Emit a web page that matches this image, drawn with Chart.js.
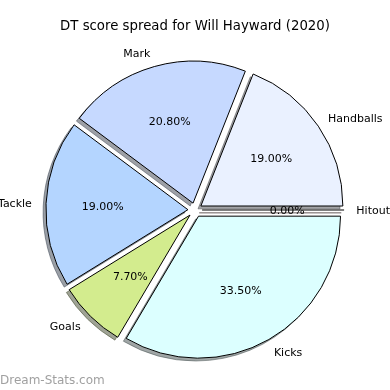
<!DOCTYPE html>
<html><head><meta charset="utf-8">
<script src="https://cdn.jsdelivr.net/npm/chart.js@4.4.1/dist/chart.umd.min.js"></script>
<style>html,body{margin:0;padding:0;background:#fff;}canvas{display:block;}</style>
</head><body>
<canvas id="c" width="390" height="390"></canvas>
<script>
// ---- data (matplotlib order: counter-clockwise from 3 o'clock) ----
const TITLE = 'DT score spread for Will Hayward (2020)';
const WATERMARK = 'Dream-Stats.com';
const categories = ['Handballs', 'Mark', 'Tackle', 'Goals', 'Kicks', 'Hitout'];
const shares = [19.00, 20.80, 19.00, 7.70, 33.50, 0.00];
const sliceColors = ['#eaf1ff', '#c6d9ff', '#b4d5ff', '#d3ec8e', '#dcffff', '#ffd9d9'];

// Chart.js runs clockwise, so reverse to mimic counter-clockwise layout
const cjLabels = categories.slice().reverse();
const cjValues = shares.slice().reverse();
const cjColors = sliceColors.slice().reverse();

const EXPLODE = 0.05;      // fraction of radius
const SHADOW = 0.02;       // fraction of radius
const FONT = '"DejaVu Sans", Verdana, sans-serif';

function hexToRgb(h) {
  h = h.replace('#', '');
  return [0, 2, 4].map(i => parseInt(h.substr(i, 2), 16));
}
function geom(arc) {
  const p = arc.getProps(['x', 'y', 'startAngle', 'endAngle', 'outerRadius', 'circumference'], true);
  const mid = (p.startAngle + p.endAngle) / 2;
  const d = EXPLODE * p.outerRadius;
  return Object.assign(p, { mid, ex: p.x + d * Math.cos(mid), ey: p.y + d * Math.sin(mid) });
}

const mplPie = {
  id: 'mplPie',
  beforeDatasetsDraw(chart) {
    const ctx = chart.ctx;
    const arcs = chart.getDatasetMeta(0).data;
    // shadows first (beneath every wedge)
    arcs.forEach(arc => {
      const g = geom(arc);
      const s = SHADOW * g.outerRadius;
      const cx = g.ex - s, cy = g.ey + s;
      const rgb = hexToRgb(arc.options.backgroundColor).map(v => Math.round(v * 0.3));
      const col = `rgba(${rgb.join(',')},0.5)`;
      ctx.save();
      ctx.beginPath();
      ctx.moveTo(cx, cy);
      ctx.arc(cx, cy, g.outerRadius, g.startAngle, g.endAngle);
      ctx.closePath();
      ctx.fillStyle = col; ctx.strokeStyle = col; ctx.lineWidth = 1;
      if (g.circumference > 0) ctx.fill();
      ctx.stroke();
      ctx.restore();
    });
    // wedges, exploded
    arcs.forEach(arc => {
      const g = geom(arc);
      ctx.save();
      if (g.circumference > 0) {
        ctx.translate(g.ex - g.x, g.ey - g.y);
        arc.draw(ctx);
      } else {
        ctx.beginPath();
        ctx.moveTo(g.ex, g.ey);
        ctx.lineTo(g.ex + g.outerRadius * Math.cos(g.startAngle), g.ey + g.outerRadius * Math.sin(g.startAngle));
        ctx.strokeStyle = arc.options.borderColor; ctx.lineWidth = arc.options.borderWidth;
        ctx.stroke();
      }
      ctx.restore();
    });
    return false;
  },
  afterDraw(chart) {
    const ctx = chart.ctx;
    const arcs = chart.getDatasetMeta(0).data;
    const data = chart.data.datasets[0].data;
    const total = data.reduce((a, b) => a + b, 0);
    ctx.save();
    ctx.fillStyle = '#000';
    // title
    ctx.font = '13.3px ' + FONT;
    ctx.textAlign = 'center';
    ctx.textBaseline = 'alphabetic';
    ctx.fillText(TITLE, 195, 29.5);
    // labels + percents
    ctx.font = '11px ' + FONT;
    ctx.textBaseline = 'middle';
    arcs.forEach((arc, i) => {
      const g = geom(arc);
      const c = Math.cos(g.mid), s = Math.sin(g.mid);
      const lx = g.ex + 1.1 * g.outerRadius * c, ly = g.ey + 1.1 * g.outerRadius * s + 1;
      const left = (lx - g.x) > 0;
      ctx.textAlign = left ? 'left' : 'right';
      ctx.fillText(chart.data.labels[i], left ? lx - 2 : lx, ly);
      ctx.textAlign = 'center';
      const pct = (data[i] / total * 100).toFixed(2) + '%';
      ctx.fillText(pct, g.ex + 0.6 * g.outerRadius * c, g.ey + 0.6 * g.outerRadius * s + 1);
    });
    // watermark
    ctx.font = '12px ' + FONT;
    ctx.fillStyle = 'rgba(128,128,128,0.75)';
    ctx.textAlign = 'left';
    ctx.textBaseline = 'alphabetic';
    ctx.fillText(WATERMARK, 0, 384);
    ctx.restore();
  }
};

new Chart(document.getElementById('c'), {
  type: 'pie',
  data: {
    labels: cjLabels,
    datasets: [{
      data: cjValues,
      backgroundColor: cjColors,
      borderColor: '#000',
      borderWidth: 1,
      offset: 0,
      hoverOffset: 0,
      radius: 142
    }]
  },
  options: {
    responsive: false,
    animation: false,
    rotation: 90,
    devicePixelRatio: 1,
    layout: { padding: { left: 50, right: 50, top: 65, bottom: 35 } },
    plugins: { legend: { display: false }, tooltip: { enabled: false }, title: { display: false } },
    events: []
  },
  plugins: [mplPie]
});
</script>
</body></html>
